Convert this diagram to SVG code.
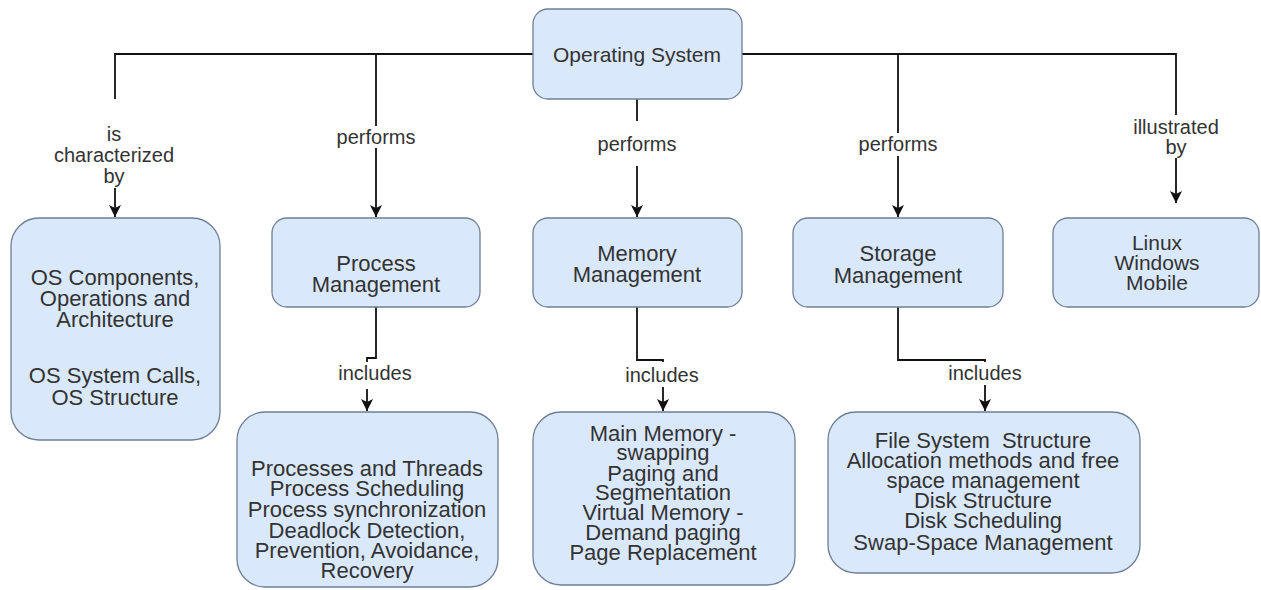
<svg xmlns="http://www.w3.org/2000/svg" width="1261" height="590" viewBox="0 0 1261 590">
<defs>
<style>
.box{fill:#dae8fc;stroke:#6f7f96;stroke-width:1.3}
.t{font-family:"Liberation Sans",Arial,sans-serif;font-size:22px;fill:#333;text-anchor:middle}
.s{font-size:21px}
.l{font-family:"Liberation Sans",Arial,sans-serif;font-size:20px;fill:#333;text-anchor:middle}
.c{fill:none;stroke:#111;stroke-width:1.8}
</style>
<marker id="ah" markerUnits="userSpaceOnUse" markerWidth="14" markerHeight="14" viewBox="0 0 14 14" refX="13" refY="7" orient="auto">
<path d="M1,1 L13,7 L1,13 L4,7 Z" fill="#111"/>
</marker>
</defs>
<rect width="1261" height="590" fill="#fff"/>
<g id="connectors">
<path class="c" d="M533,54 H115 V99"/>
<path class="c" d="M742,54 H1176 V115"/>
<path class="c" d="M376,54 V126"/>
<path class="c" d="M898,54 V133"/>
<path class="c" d="M115,188 V217" marker-end="url(#ah)"/>
<path class="c" d="M376,148 V217" marker-end="url(#ah)"/>
<path class="c" d="M637,99 V121"/>
<path class="c" d="M637,166 V217" marker-end="url(#ah)"/>
<path class="c" d="M898,156 V217" marker-end="url(#ah)"/>
<path class="c" d="M1176,158 V203" marker-end="url(#ah)"/>
<path class="c" d="M376,307 V358 H367 V362"/>
<path class="c" d="M367,389 V411" marker-end="url(#ah)"/>
<path class="c" d="M637,307 V360 H663 V362"/>
<path class="c" d="M663,387 V411" marker-end="url(#ah)"/>
<path class="c" d="M898,307 V360 H985 V362"/>
<path class="c" d="M985,385 V411" marker-end="url(#ah)"/>
<g id="labels">
<text class="l" x="114" y="141">is</text>
<text class="l" x="114" y="162">characterized</text>
<text class="l" x="114" y="183">by</text>
<text class="l" x="376" y="144">performs</text>
<text class="l" x="637" y="151">performs</text>
<text class="l" x="898" y="151">performs</text>
<text class="l" x="1176" y="134">illustrated</text>
<text class="l" x="1176" y="154">by</text>
<text class="l" x="375" y="380">includes</text>
<text class="l" x="662" y="382">includes</text>
<text class="l" x="985" y="380">includes</text>
</g>
</g>
<g id="os">
<rect class="box" x="533" y="9" width="209" height="90" rx="15"/>
<text class="t s" x="637" y="62">Operating System</text>
</g>
<g id="characteristics">
<rect class="box" x="11" y="218" width="209" height="222" rx="28"/>
<text class="t" x="115" y="285">OS Components,</text>
<text class="t" x="115" y="306">Operations and</text>
<text class="t" x="115" y="327">Architecture</text>
<text class="t" x="115" y="383">OS System Calls,</text>
<text class="t" x="115" y="405">OS Structure</text>
</g>
<g id="process">
<rect class="box" x="272" y="218" width="208" height="89" rx="15"/>
<text class="t" x="376" y="271">Process</text>
<text class="t" x="376" y="292">Management</text>
</g>
<g id="memory">
<rect class="box" x="533" y="218" width="209" height="89" rx="15"/>
<text class="t" x="637" y="261">Memory</text>
<text class="t" x="637" y="282">Management</text>
</g>
<g id="storage">
<rect class="box" x="793" y="218" width="210" height="89" rx="15"/>
<text class="t" x="898" y="261">Storage</text>
<text class="t" x="898" y="283">Management</text>
</g>
<g id="examples">
<rect class="box" x="1053" y="218" width="206" height="89" rx="15"/>
<text class="t s" x="1157" y="250">Linux</text>
<text class="t s" x="1157" y="270">Windows</text>
<text class="t s" x="1157" y="290">Mobile</text>
</g>
<g id="process-topics">
<rect class="box" x="237" y="412" width="261" height="175" rx="28"/>
<text class="t" x="367" y="476">Processes and Threads</text>
<text class="t" x="367" y="496">Process Scheduling</text>
<text class="t" x="367" y="517">Process synchronization</text>
<text class="t" x="367" y="538">Deadlock Detection,</text>
<text class="t" x="367" y="558">Prevention, Avoidance,</text>
<text class="t" x="367" y="578">Recovery</text>
</g>
<g id="memory-topics">
<rect class="box" x="533" y="412" width="262" height="173" rx="28"/>
<text class="t" x="663" y="441">Main Memory -</text>
<text class="t" x="663" y="460">swapping</text>
<text class="t" x="663" y="481">Paging and</text>
<text class="t" x="663" y="500">Segmentation</text>
<text class="t" x="663" y="520">Virtual Memory -</text>
<text class="t" x="663" y="540">Demand paging</text>
<text class="t" x="663" y="560">Page Replacement</text>
</g>
<g id="storage-topics">
<rect class="box" x="828" y="412" width="312" height="161" rx="28"/>
<text class="t" x="983" y="448" xml:space="preserve">File System  Structure</text>
<text class="t" x="983" y="468">Allocation methods and free</text>
<text class="t" x="983" y="488">space management</text>
<text class="t" x="983" y="508">Disk Structure</text>
<text class="t" x="983" y="528">Disk Scheduling</text>
<text class="t" x="983" y="550">Swap-Space Management</text>
</g>
</svg>
